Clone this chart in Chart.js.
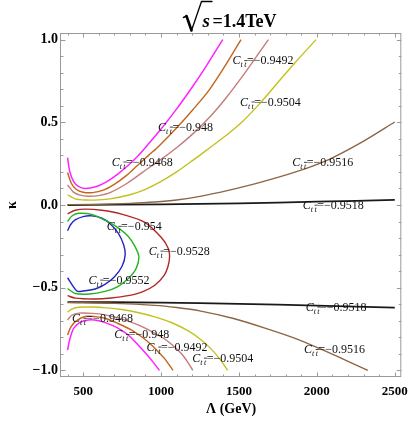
<!DOCTYPE html>
<html>
<head>
<meta charset="utf-8">
<script src="https://cdn.jsdelivr.net/npm/chart.js@4.4.1/dist/chart.umd.min.js"></script>
<style>
  html, body { margin: 0; padding: 0; background: #fff; }
  canvas { display: block; }
</style>
</head>
<body>
<canvas id="myChart" width="415" height="422"></canvas>
<script>
// contour lines of C_tt, points are [Lambda (GeV), kappa]
const up9468 = [[400,0.287],[415,0.2],[440,0.14],[470,0.112],[510,0.1],[580,0.11],[650,0.14],[720,0.185],[790,0.24],[850,0.295],[920,0.37],[992,0.45],[1098,0.578],[1204,0.718],[1290,0.84],[1396,1.0]];
const up948 = [[400,0.196],[425,0.13],[455,0.095],[500,0.077],[560,0.075],[630,0.09],[700,0.125],[779,0.179],[850,0.24],[920,0.3],[992,0.362],[1098,0.464],[1204,0.576],[1311,0.698],[1417,0.85],[1513,1.0]];
const up9492 = [[400,0.122],[438,0.078],[480,0.06],[534,0.053],[600,0.057],[673,0.075],[780,0.13],[885,0.2],[990,0.27],[1098,0.345],[1204,0.43],[1311,0.53],[1417,0.647],[1523,0.779],[1630,0.921],[1689,1.0]];
const up9504 = [[400,0.062],[449,0.037],[520,0.03],[600,0.031],[673,0.037],[800,0.062],[900,0.095],[992,0.138],[1100,0.2],[1204,0.27],[1311,0.345],[1417,0.42],[1523,0.505],[1630,0.61],[1740,0.73],[1864,0.865],[1995,1.0]];
const up9516 = [[400,0.002],[600,0.004],[800,0.01],[960,0.018],[1100,0.03],[1250,0.052],[1438,0.09],[1630,0.135],[1864,0.2],[2076,0.275],[2289,0.38],[2500,0.502]];
const up9518 = [[400,0],[1000,0.004],[1500,0.01],[2000,0.02],[2500,0.031]];

const in9528 = [[400,-0.054],[450,-0.032],[513,-0.025],[620,-0.032],[747,-0.055],[896,-0.105],[1002,-0.197],[1045,-0.26],[1055,-0.31],[1045,-0.37],[1020,-0.425],[960,-0.485],[880,-0.525],[789,-0.548],[680,-0.562],[577,-0.568],[449,-0.563],[400,-0.548]];
const in954 = [[400,-0.1],[430,-0.065],[471,-0.05],[560,-0.058],[641,-0.092],[720,-0.135],[790,-0.19],[835,-0.255],[858,-0.315],[840,-0.385],[790,-0.445],[720,-0.495],[641,-0.522],[540,-0.538],[450,-0.535],[400,-0.505]];
const in9552 = [[400,-0.156],[420,-0.118],[449,-0.09],[500,-0.07],[556,-0.066],[620,-0.08],[670,-0.11],[725,-0.17],[760,-0.24],[770,-0.3],[750,-0.37],[700,-0.435],[640,-0.48],[577,-0.508],[500,-0.52],[460,-0.52],[400,-0.44]];

const lo9518 = [[400,-0.587],[1000,-0.59],[1500,-0.598],[2000,-0.608],[2500,-0.62]];
const lo9516 = [[400,-0.59],[700,-0.595],[960,-0.607],[1100,-0.62],[1248,-0.64],[1459,-0.685],[1672,-0.746],[1885,-0.815],[2070,-0.89],[2200,-0.945],[2327,-1.0]];
const lo9504 = [[400,-0.648],[430,-0.628],[471,-0.618],[560,-0.617],[650,-0.622],[747,-0.632],[850,-0.65],[960,-0.676],[1070,-0.712],[1172,-0.76],[1250,-0.81],[1321,-0.87],[1380,-0.935],[1427,-1.0]];
const lo9492 = [[400,-0.695],[430,-0.665],[471,-0.654],[560,-0.655],[641,-0.664],[750,-0.69],[853,-0.725],[940,-0.765],[1023,-0.81],[1080,-0.852],[1130,-0.898],[1170,-0.948],[1204,-1.0]];
const lo948 = [[400,-0.786],[420,-0.74],[450,-0.705],[513,-0.674],[580,-0.675],[641,-0.685],[720,-0.715],[811,-0.756],[880,-0.8],[939,-0.847],[985,-0.89],[1023,-0.929],[1077,-1.0]];
const lo9468 = [[400,-0.877],[415,-0.81],[440,-0.745],[480,-0.71],[534,-0.695],[600,-0.7],[680,-0.725],[747,-0.758],[800,-0.795],[853,-0.847],[900,-0.895],[939,-0.938],[990,-1.0]];

// contour labels: level, position of the label (left edge, middle)
const labelLevels = ['-0.9468','-0.948','-0.9492','-0.9504','-0.9516','-0.9518','-0.954','-0.9528','-0.9552','-0.9518','-0.9468','-0.948','-0.9492','-0.9504','-0.9516'];
const labelX = [683, 981, 1459, 1506, 1842, 1910, 651, 921, 534, 1928, 428, 700, 907, 1200, 1917];
const labelK = [0.257, 0.468, 0.87, 0.62, 0.255, -0.004, -0.132, -0.282, -0.457, -0.62, -0.688, -0.786, -0.862, -0.929, -0.877];

const xTicks = [500, 1000, 1500, 2000, 2500];
const yTicks = [-1, -0.5, 0, 0.5, 1];

const serif = '"Liberation Serif", "Times New Roman", serif';

// curve list with colours
const curves = [
    { pts: up9516, color: '#8c6644', w: 1.4 },
    { pts: lo9516, color: '#8c6644', w: 1.4 },
    { pts: up9518, color: '#1a1a1a', w: 1.8 },
    { pts: lo9518, color: '#1a1a1a', w: 1.8 },
    { pts: up9504, color: '#c2c21e', w: 1.4 },
    { pts: lo9504, color: '#c2c21e', w: 1.4 },
    { pts: up9492, color: '#c47c7c', w: 1.4 },
    { pts: lo9492, color: '#c47c7c', w: 1.4 },
    { pts: up948, color: '#c4641a', w: 1.4 },
    { pts: lo948, color: '#c4641a', w: 1.4 },
    { pts: up9468, color: '#ff22ff', w: 1.5 },
    { pts: lo9468, color: '#ff22ff', w: 1.5 },
    { pts: in9528, color: '#b42626', w: 1.4 },
    { pts: in954, color: '#22b422', w: 1.4 },
    { pts: in9552, color: '#2424c8', w: 1.4 }
];

let datasets = curves.map(c => ({
    data: c.pts.map(p => ({ x: p[0], y: p[1] })),
    showLine: true,
    borderColor: c.color,
    borderWidth: c.w,
    pointRadius: 0,
    tension: 0.3,
    fill: false
}));

// white background
const whiteBg = {
    id: 'whiteBg',
    beforeDraw(chart) {
        const ctx = chart.ctx;
        ctx.save();
        ctx.fillStyle = '#fff';
        ctx.fillRect(0, 0, chart.width, chart.height);
        ctx.restore();
    }
};

// gray frame with inward ticks on all four sides
const frameTicks = {
    id: 'frameTicks',
    afterDatasetsDraw(chart) {
        const { ctx, chartArea: a, scales: { x, y } } = chart;
        ctx.save();
        ctx.strokeStyle = '#999';
        ctx.lineWidth = 1;
        ctx.strokeRect(a.left - 0.5, a.top + 0.5, a.right - a.left, a.bottom - a.top - 1);
        ctx.beginPath();
        for (let v = 400; v <= 2500; v += 100) {
            const px = Math.round(x.getPixelForValue(v)) + 0.5;
            const len = v % 500 === 0 ? 4.5 : 2.5;
            ctx.moveTo(px, a.bottom); ctx.lineTo(px, a.bottom - len);
            ctx.moveTo(px, a.top); ctx.lineTo(px, a.top + len);
        }
        for (let i = -10; i <= 10; i++) {
            const py = Math.round(y.getPixelForValue(i / 10)) + 0.5;
            const len = i % 5 === 0 ? 4.5 : 2.5;
            ctx.moveTo(a.left, py); ctx.lineTo(a.left + len, py);
            ctx.moveTo(a.right, py); ctx.lineTo(a.right - len, py);
        }
        ctx.stroke();
        ctx.restore();
    }
};

// contour labels  C_{t tbar}=level
const contourLabels = {
    id: 'contourLabels',
    afterDatasetsDraw(chart) {
        const { ctx, scales: { x, y } } = chart;
        ctx.save();
        ctx.fillStyle = '#111';
        ctx.strokeStyle = '#111';
        ctx.textBaseline = 'middle';
        labelLevels.forEach((lev, i) => {
            let px = x.getPixelForValue(labelX[i]);
            let py = y.getPixelForValue(labelK[i]);
            ctx.font = 'italic 12px ' + serif;
            ctx.fillText('C', px, py);
            px += ctx.measureText('C').width;
            ctx.font = 'italic 8px ' + serif;
            ctx.fillText('t', px, py + 4);
            px += ctx.measureText('t').width + 1.5;
            const tw = ctx.measureText('t').width;
            ctx.fillText('t', px, py + 4);
            ctx.lineWidth = 0.8;
            ctx.beginPath();
            ctx.moveTo(px, py - 0.5); ctx.lineTo(px + tw + 1, py - 0.5);
            ctx.stroke();
            px += tw + 0.5;
            ctx.font = '12px ' + serif;
            ctx.fillText('=' + lev.replace('-', '\u2212'), px, py);
        });
        ctx.restore();
    }
};

// title  sqrt(s) = 1.4TeV
const sqrtTitle = {
    id: 'sqrtTitle',
    afterDraw(chart) {
        const ctx = chart.ctx;
        ctx.save();
        ctx.strokeStyle = '#000';
        ctx.lineCap = 'round';
        ctx.lineWidth = 1.6;
        ctx.beginPath();
        ctx.moveTo(183.5, 17.5); ctx.lineTo(186.5, 16);
        ctx.stroke();
        ctx.lineWidth = 2.6;
        ctx.beginPath();
        ctx.moveTo(186.5, 16); ctx.lineTo(191.5, 30.5);
        ctx.stroke();
        ctx.lineWidth = 1.3;
        ctx.beginPath();
        ctx.moveTo(191.5, 30.5); ctx.lineTo(201.5, 1.5); ctx.lineTo(212, 1.5);
        ctx.stroke();
        ctx.fillStyle = '#000';
        ctx.textBaseline = 'alphabetic';
        ctx.font = 'italic bold 19px ' + serif;
        ctx.fillText('s', 202.5, 26.5);
        ctx.font = 'bold 18px ' + serif;
        ctx.fillText('=1.4TeV', 212.5, 26.5);
        ctx.restore();
    }
};

new Chart(document.getElementById('myChart'), {
    type: 'scatter',
    data: { datasets: datasets },
    options: {
        responsive: false,
        animation: false,
        devicePixelRatio: 1,
        layout: { padding: { top: 33, right: 12, left: 0, bottom: 0 } },
        plugins: {
            legend: { display: false },
            tooltip: { enabled: false },
            title: { display: false }
        },
        scales: {
            x: {
                type: 'linear',
                min: 358,
                max: 2542,
                afterBuildTicks: s => { s.ticks = xTicks.map(v => ({ value: v })); },
                afterFit: s => { s.height = 45; },
                grid: { display: false, drawTicks: false },
                border: { display: false },
                ticks: {
                    padding: 7,
                    color: '#000',
                    font: { family: serif, size: 13, weight: 'bold' },
                    callback: v => String(v)
                },
                title: {
                    display: true,
                    text: '\u039B (GeV)',
                    color: '#000',
                    font: { family: serif, size: 14, weight: 'bold' }
                }
            },
            y: {
                type: 'linear',
                min: -1.04,
                max: 1.04,
                afterBuildTicks: s => { s.ticks = yTicks.map(v => ({ value: v })); },
                afterFit: s => { s.width = 61; },
                grid: { display: false, drawTicks: false },
                border: { display: false },
                ticks: {
                    padding: 3,
                    color: '#000',
                    font: { family: serif, size: 14, weight: 'bold' },
                    callback: v => v.toFixed(1).replace('-', '\u2212')
                },
                title: {
                    display: true,
                    text: '\u03BA',
                    color: '#000',
                    font: { family: serif, size: 14, weight: 'bold' }
                }
            }
        }
    },
    plugins: [whiteBg, frameTicks, contourLabels, sqrtTitle]
});
</script>
</body>
</html>
